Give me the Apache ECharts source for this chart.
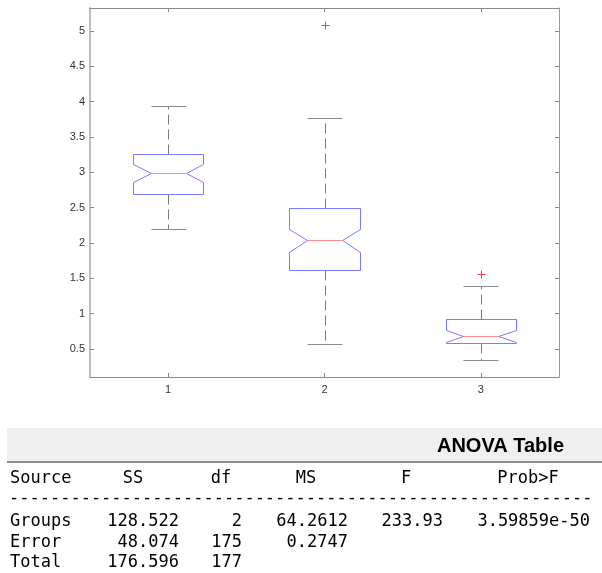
<!DOCTYPE html>
<html>
<head>
<meta charset="utf-8">
<script src="https://cdn.jsdelivr.net/npm/echarts@6/dist/echarts.min.js"></script>
<style>
  html, body { margin: 0; padding: 0; background: #fff; }
  #main { width: 602px; height: 573px; }
</style>
</head>
<body>
<div id="main"></div>
<script>
// box plot values, one entry per group
var groups        = [1, 2, 3];
var lowerWhisker  = [2.198, 0.571, 0.340];
var q1            = [2.689, 1.610, 0.580];
var notchLow      = [2.867, 1.877, 0.604];
var medians       = [2.986, 2.038, 0.684];
var notchHigh     = [3.114, 2.194, 0.764];
var q3            = [3.255, 2.490, 0.920];
var upperWhisker  = [3.934, 3.769, 1.396];
var outlierGroup  = [2, 3];
var outlierValue  = [5.085, 1.566];

var yTicks = [0.5, 1, 1.5, 2, 2.5, 3, 3.5, 4, 4.5, 5];
var xTicks = [1, 2, 3];

// ANOVA table
var tableTitle   = 'ANOVA Table';
var tableHeaders = ['Source', 'SS', 'df', 'MS', 'F', 'Prob>F'];
var colSource = ['Groups', 'Error', 'Total'];
var colSS     = ['128.522', '48.074', '176.596'];
var colDf     = ['2', '175', '177'];
var colMS     = ['64.2612', '0.2747', ''];
var colF      = ['233.93', '', ''];
var colProb   = ['3.59859e-50', '', ''];

var boxData = groups.map(function (g, i) {
  return [g, lowerWhisker[i], q1[i], notchLow[i], medians[i], notchHigh[i], q3[i], upperWhisker[i]];
});
var outlierData = outlierGroup.map(function (g, i) { return [g, outlierValue[i]]; });

var BOX_HALF = 0.224, NOTCH_HALF = 0.112, CAP_HALF = 0.112;

function px(v) { return Math.round(v) + 0.5; }
function seg(p, q, st) {
  return { type: 'line', shape: { x1: p[0], y1: p[1], x2: q[0], y2: q[1] }, style: st };
}

// one notched box with whiskers and caps, drawn through the axis scales
function renderBox(params, api) {
  var x = api.value(0);
  function P(dx, v) { var c = api.coord([x + dx, v]); return [px(c[0]), px(c[1])]; }
  var lw = api.value(1), a = api.value(2), nl = api.value(3), md = api.value(4),
      nh = api.value(5), b = api.value(6), uw = api.value(7);
  var pts = [
    P(-BOX_HALF, a), P(BOX_HALF, a), P(BOX_HALF, nl), P(NOTCH_HALF, md), P(BOX_HALF, nh),
    P(BOX_HALF, b), P(-BOX_HALF, b), P(-BOX_HALF, nh), P(-NOTCH_HALF, md), P(-BOX_HALF, nl)
  ];
  var whisk = { stroke: '#7a7a7a', lineWidth: 1, lineDash: [10, 5] };
  var cap = { stroke: '#8a8a8a', lineWidth: 1 };
  return {
    type: 'group',
    children: [
      seg(P(0, b), P(0, uw), whisk),
      seg(P(0, a), P(0, lw), whisk),
      seg(P(-CAP_HALF, uw), P(CAP_HALF, uw), cap),
      seg(P(-CAP_HALF, lw), P(CAP_HALF, lw), cap),
      { type: 'polygon', shape: { points: pts }, style: { fill: 'none', stroke: '#7b7bff', lineWidth: 1 } },
      seg(P(-NOTCH_HALF, md), P(NOTCH_HALF, md), { stroke: '#ff8c8c', lineWidth: 1 })
    ]
  };
}

// outliers as a red '+'
function renderOutlier(params, api) {
  var c = api.coord([api.value(0), api.value(1)]);
  var cx = Math.round(c[0]) + 0.5, cy = Math.round(c[1]) + 0.5, r = 4;
  var st = { stroke: '#ff3c3c', lineWidth: 1 };
  return {
    type: 'group',
    children: [
      seg([cx - r, cy], [cx + r, cy], st),
      seg([cx, cy - r], [cx, cy + r], st)
    ]
  };
}

// table graphics
var MONO = '17px "DejaVu Sans Mono", monospace';
var headerX = [10, 133, 221, 306, 406, 528];
var headerAlign = ['left', 'center', 'center', 'center', 'center', 'center'];
var valueX = [10, 179, 242, 348, 443, 590];
var valueAlign = ['left', 'right', 'right', 'right', 'right', 'right'];
var rowY = [522, 543, 563];
var cols = [colSource, colSS, colDf, colMS, colF, colProb];

var graphics = [
  { type: 'rect', shape: { x: 7, y: 428, width: 595, height: 33 }, style: { fill: '#efefef' } },
  { type: 'line', shape: { x1: 7, y1: 462, x2: 602, y2: 462 }, style: { stroke: '#8c8c8c', lineWidth: 2 } },
  { type: 'text', x: 564, y: 446, style: { text: tableTitle, font: 'bold 20px "Liberation Sans", Arial, sans-serif', fill: '#000', align: 'right', verticalAlign: 'middle' } },
  { type: 'text', x: 9, y: 499, style: { text: new Array(58).join('-'), font: MONO, fill: '#000', align: 'left', verticalAlign: 'middle' } }
];
tableHeaders.forEach(function (h, i) {
  graphics.push({ type: 'text', x: headerX[i], y: 479, style: { text: h, font: MONO, fill: '#000', align: headerAlign[i], verticalAlign: 'middle' } });
});
cols.forEach(function (col, i) {
  col.forEach(function (v, r) {
    if (!v) return;
    graphics.push({ type: 'text', x: valueX[i], y: rowY[r], style: { text: v, font: MONO, fill: '#000', align: valueAlign[i], verticalAlign: 'middle' } });
  });
});

var chart = echarts.init(document.getElementById('main'));
var labelFont = { color: '#333', fontSize: 11, fontFamily: '"Liberation Sans", Arial, sans-serif' };
var option = {
  backgroundColor: '#fff',
  animation: false,
  grid: { left: 90, right: 43, top: 8, bottom: 196 },
  xAxis: [
    {
      type: 'value', min: 0.5, max: 3.5, position: 'bottom',
      axisLine: { show: true, lineStyle: { color: '#888', width: 1 } },
      axisTick: { show: true, inside: true, length: 4, customValues: xTicks, lineStyle: { color: '#888' } },
      axisLabel: Object.assign({ customValues: xTicks, margin: 7 }, labelFont),
      splitLine: { show: false }
    },
    {
      type: 'value', min: 0.5, max: 3.5, position: 'top',
      axisLine: { show: true, lineStyle: { color: '#888', width: 1 } },
      axisTick: { show: true, inside: true, length: 4, customValues: xTicks, lineStyle: { color: '#888' } },
      axisLabel: { show: false },
      splitLine: { show: false }
    }
  ],
  yAxis: [
    {
      type: 'value', min: 0.103, max: 5.322, position: 'left',
      axisLine: { show: true, lineStyle: { color: '#bdbdbd', width: 2 } },
      axisTick: { show: true, inside: true, length: 4, customValues: yTicks, lineStyle: { color: '#888' } },
      axisLabel: Object.assign({ customValues: yTicks, margin: 5 }, labelFont),
      splitLine: { show: false }
    },
    {
      type: 'value', min: 0.103, max: 5.322, position: 'right',
      axisLine: { show: true, lineStyle: { color: '#999', width: 1 } },
      axisTick: { show: true, inside: true, length: 4, customValues: yTicks, lineStyle: { color: '#888' } },
      axisLabel: { show: false },
      splitLine: { show: false }
    }
  ],
  series: [
    { type: 'custom', xAxisIndex: 0, yAxisIndex: 0, renderItem: renderBox, data: boxData, silent: true },
    { type: 'custom', xAxisIndex: 0, yAxisIndex: 0, renderItem: renderOutlier, data: outlierData, silent: true }
  ],
  graphic: graphics
};
chart.setOption(option);
</script>
</body>
</html>
